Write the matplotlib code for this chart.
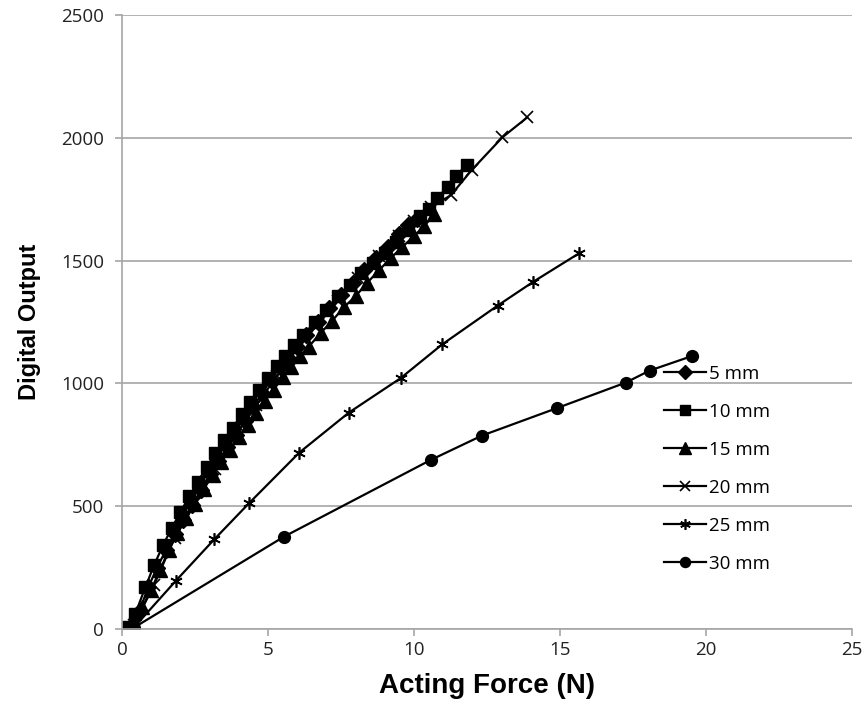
import matplotlib
matplotlib.use("Agg")
import matplotlib.pyplot as plt

# force (N) / digital output
x5 = [0, 0.3, 0.6, 0.9, 1.2, 1.5, 1.8, 2.1, 2.4, 2.7, 3.0, 3.3, 3.6, 3.9, 4.2, 4.5,
      4.8, 5.1, 5.4, 5.7, 6.0, 6.3, 6.7, 7.1, 7.5, 7.9, 8.3, 8.7, 9.1, 9.5, 9.8, 10.1]
y5 = [0, 5, 75, 170, 250, 320, 385, 445, 505, 565, 630, 685, 740, 790, 845, 905,
      960, 1015, 1065, 1105, 1150, 1195, 1250, 1305, 1360, 1410, 1460, 1510, 1555, 1610, 1645, 1670]

x10 = [0, 0.2, 0.45, 0.8, 1.1, 1.4, 1.7, 2.0, 2.3, 2.6, 2.9, 3.2, 3.5, 3.8, 4.1, 4.4,
       4.7, 5.0, 5.3, 5.6, 5.9, 6.2, 6.6, 7.0, 7.4, 7.8, 8.2, 8.6, 9.0, 9.4, 9.8,
       10.2, 10.5, 10.8, 11.15, 11.45, 11.8]
y10 = [0, 10, 60, 170, 260, 340, 410, 475, 540, 600, 660, 715, 770, 820, 875, 925,
       975, 1020, 1070, 1110, 1155, 1195, 1250, 1300, 1355, 1400, 1450, 1490, 1530, 1575, 1625,
       1680, 1710, 1755, 1800, 1845, 1890]

x15 = [0, 0.35, 0.7, 1.0, 1.3, 1.6, 1.9, 2.2, 2.5, 2.8, 3.1, 3.4, 3.7, 4.0, 4.3, 4.6,
       4.9, 5.2, 5.5, 5.8, 6.1, 6.4, 6.8, 7.2, 7.6, 8.0, 8.4, 8.8, 9.2, 9.6, 10.0, 10.35, 10.7]
y15 = [0, 10, 90, 160, 240, 320, 390, 450, 510, 570, 625, 680, 730, 780, 830, 880,
       930, 975, 1025, 1065, 1110, 1150, 1205, 1255, 1310, 1355, 1410, 1460, 1510, 1555, 1600, 1640, 1690]

x20 = [0, 0.4, 1.1, 1.8, 2.5, 3.2, 3.9, 4.6, 5.3, 6.0, 6.7, 7.4, 8.1, 8.8, 9.5,
       10.0, 10.6, 11.27, 11.98, 13.03, 13.88]
y20 = [0, 15, 180, 370, 515, 650, 790, 910, 1030, 1140, 1240, 1335, 1430, 1520, 1600,
       1660, 1717, 1767, 1869, 2002, 2083]

x25 = [0, 0.4, 1.85, 3.16, 4.35, 6.07, 7.77, 9.54, 10.97, 12.87, 14.09, 15.66]
y25 = [0, 5, 197, 365, 512, 718, 881, 1021, 1159, 1317, 1414, 1530]

x30 = [0, 0.4, 5.55, 10.57, 12.32, 14.89, 17.25, 18.07, 19.54]
y30 = [0, 5, 376, 688, 787, 899, 1003, 1052, 1112]

labels = ["5 mm", "10 mm", "15 mm", "20 mm", "25 mm", "30 mm"]
xticks = [0, 5, 10, 15, 20, 25]
yticks = [0, 500, 1000, 1500, 2000, 2500]

fig = plt.figure(figsize=(8.64, 7.27), dpi=100)
ax = fig.add_axes([0.1412, 0.1348, 0.8448, 0.8446])

# series
ax.plot(x5, y5, color="black", lw=1.6, marker="D", ms=8, label=labels[0])
ax.plot(x10, y10, color="black", lw=1.6, marker="s", ms=9, label=labels[1])
ax.plot(x15, y15, color="black", lw=1.6, marker="^", ms=10, label=labels[2])
ax.plot(x20, y20, color="black", lw=1.6, marker="x", ms=8, mew=1.2, label=labels[3])
ax.plot(x25, y25, color="black", lw=1.6, marker=(6, 2, 0), ms=9, mew=1.2, label=labels[4])
ax.plot(x30, y30, color="black", lw=1.6, marker="o", ms=8.5, label=labels[5])

ax.set_xlim(0, 25)
ax.set_ylim(0, 2500)
ax.set_xticks(xticks)
ax.set_yticks(yticks)
ax.yaxis.grid(True, color="#a6a6a6", lw=1.2)
ax.set_axisbelow(True)
for s in ["top", "right"]:
    ax.spines[s].set_visible(False)
for s in ["left", "bottom"]:
    ax.spines[s].set_color("#a6a6a6")
    ax.spines[s].set_linewidth(1.2)
ax.tick_params(colors="#a6a6a6", labelcolor="#222222", labelsize=13.5, length=5, width=1.2)
ax.tick_params(axis="y", pad=8)
for t in ax.get_xticklabels() + ax.get_yticklabels():
    t.set_family("Open Sans")

ax.set_xlabel("Acting Force (N)", fontsize=20, fontweight="bold", family="Liberation Sans", labelpad=10)
ax.set_ylabel("Digital Output", fontsize=17, fontweight="bold", family="Liberation Sans", labelpad=14)

leg = ax.legend(loc="upper left", bbox_to_anchor=(0.72, 0.458), frameon=False,
                prop={"family": "Open Sans", "size": 13.5}, handlelength=2.2,
                labelspacing=1.07, handletextpad=0.2, markerscale=0.85)

fig.savefig("out.png", dpi=100)
